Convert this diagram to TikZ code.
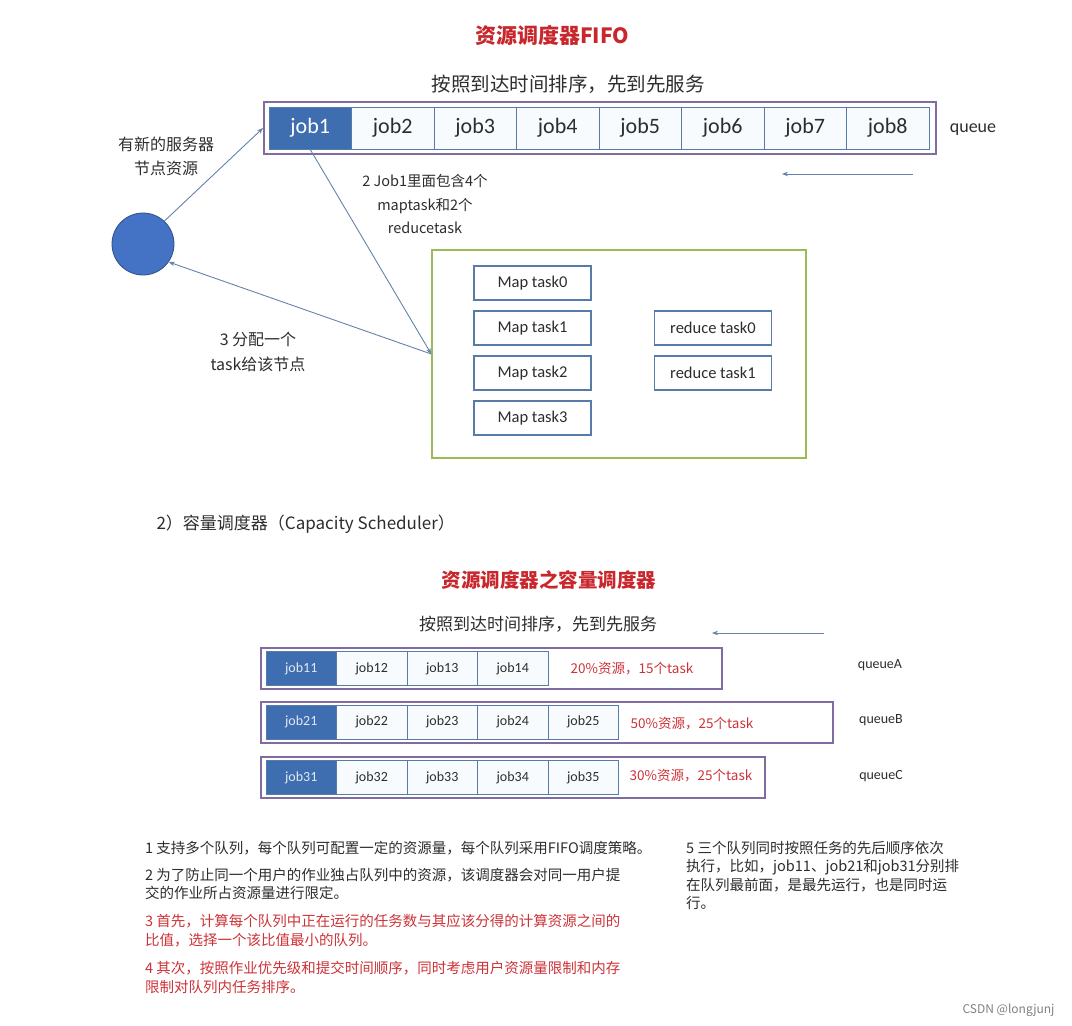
\documentclass[tikz,border=0pt]{standalone}
\usepackage{fontspec}
\setmainfont{Carlito}
\newfontfamily\cjk{Noto Sans CJK SC}
\usetikzlibrary{arrows.meta, positioning, calc}

\begin{document}
\begin{tikzpicture}[x=1pt,y=-1pt,>={Stealth[length=6pt,width=4.5pt]}]

\useasboundingbox (0,0) rectangle (1072,1026);

% Colors
\definecolor{jobblue}{RGB}{62,110,176}
\definecolor{cellline}{RGB}{88,124,170}
\definecolor{cellfill}{RGB}{247,251,254}
\definecolor{queueline}{RGB}{128,108,160}
\definecolor{taskgreen}{RGB}{155,187,89}
\definecolor{arrowblue}{RGB}{100,130,170}
\definecolor{titlered}{RGB}{200,40,45}
\definecolor{notered}{RGB}{205,50,55}
\definecolor{nodeblue}{RGB}{68,114,196}
\definecolor{textgray}{RGB}{45,45,45}

\tikzset{
  jobcell/.style={draw=cellline, fill=cellfill, line width=1pt, minimum width=82.5pt,
    minimum height=42pt, inner sep=0pt, text=textgray, font=\fontsize{22}{22}\selectfont},
  firstcell/.style={jobcell, fill=jobblue, text=white},
  smallcell/.style={jobcell, minimum width=70.5pt, minimum height=34pt, font=\fontsize{14}{14}\selectfont},
  smallfirst/.style={smallcell, fill=jobblue, text=white!85!jobblue},
  queuebox/.style={draw=queueline, line width=2pt, minimum height=41pt, inner sep=0pt},
  taskbox/.style={draw=cellline, fill=white, line width=1.6pt, minimum width=117pt,
    minimum height=34pt, inner sep=0pt, text=textgray, font=\fontsize{16.5}{16.5}\selectfont},
  conn/.style={arrowblue, line width=0.9pt, ->},
  cjklabel/.style={align=center, text=textgray},
  restext/.style={text=notered, font=\cjk\fontsize{13.5}{13.5}\selectfont},
  qlabel/.style={text=textgray, font=\fontsize{14}{14}\selectfont},
  note/.style={anchor=north west, align=left, inner sep=0pt, text=textgray,
    font=\cjk\fontsize{14.5}{18.5}\selectfont}
}

% Titles
\node[text=titlered, font=\cjk\bfseries\fontsize{21}{21}\selectfont] (T1) at (552,35) {资源调度器FIFO};
\node[text=textgray, font=\cjk\fontsize{19.5}{19.5}\selectfont] (S1) at (568,84) {按照到达时间排序，先到先服务};

% FIFO queue
\node[queuebox, minimum width=672pt, minimum height=52pt] (Q) at (600,128) {};
\node[firstcell] (J1) at (310.25,128) {job1};
\foreach \i in {2,...,8} {
    \node[jobcell] (J\i) at ({269+82.5*(\i-0.5)},128) {job\i};
}
\node[text=textgray, font=\fontsize{18}{18}\selectfont] (QL) at (973,130) {queue};
\coordinate (qs) at (913,174);
\coordinate (qe) at (782,174);
\draw[conn] (qs) -- (qe);

% Server node
\node[circle, fill=nodeblue, draw=nodeblue!70!black, line width=0.8pt, minimum size=62pt] (N) at (143,244) {};

% Task box
\node[draw=taskgreen, line width=1.5pt, minimum width=374pt, minimum height=208pt] (G) at (619,354) {};
\foreach \i/\y in {0/283,1/328,2/373,3/418} {
    \node[taskbox] (M\i) at (532.5,\y) {Map task\i};
}
\foreach \i/\y in {0/328,1/373} {
    \node[taskbox] (R\i) at (713,\y) {reduce task\i};
}

% Connections
\draw[conn] (N.47) -- (Q.west);
\draw[conn] (J1.south) -- (G.west);
\draw[conn] (G.west) -- (N.-35);

% Labels
\node[cjklabel, font=\cjk\fontsize{16}{24}\selectfont] (L1) at (166,156) {有新的服务器\\节点资源};
\node[cjklabel, font=\cjk\fontsize{14.5}{23.5}\selectfont] (L2) at (425,204) {2 Job1里面包含4个\\maptask和2个\\reducetask};
\node[cjklabel, font=\cjk\fontsize{16}{25}\selectfont] (L3) at (258,352) {3 分配一个\\task给该节点};

% Capacity scheduler
\node[anchor=west, text=textgray, font=\cjk\fontsize{17}{17}\selectfont] (H2) at (153,524) {2）容量调度器（Capacity Scheduler）};
\node[text=titlered, font=\cjk\bfseries\fontsize{19.5}{19.5}\selectfont] (T2) at (549,580) {资源调度器之容量调度器};
\node[text=textgray, font=\cjk\fontsize{17}{17}\selectfont] (S2) at (538,624) {按照到达时间排序，先到先服务};
\coordinate (cs) at (824,633);
\coordinate (ce) at (712,633);
\draw[conn] (cs) -- (ce);

% Queue A
\node[queuebox, minimum width=461pt] (QA) at (491.5,668.5) {};
\node[smallfirst] (J11) at (301.25,668.5) {job11};
\foreach \i in {2,...,4} {
    \node[smallcell] (J1\i) at ({266+70.5*(\i-0.5)},668.5) {job1\i};
}
\node[restext] (PA) at (632,669) {20\%资源，15个task};
\node[qlabel] (LA) at (880,665) {queueA};

% Queue B
\node[queuebox, minimum width=572pt] (QB) at (547,722) {};
\node[smallfirst] (J21) at (301.25,722) {job21};
\foreach \i in {2,...,5} {
    \node[smallcell] (J2\i) at ({266+70.5*(\i-0.5)},722) {job2\i};
}
\node[restext] (PB) at (692,724) {50\%资源，25个task};
\node[qlabel] (LB) at (881,720) {queueB};

% Queue C
\node[queuebox, minimum width=504pt] (QC) at (513,777.5) {};
\node[smallfirst] (J31) at (301.25,777.5) {job31};
\foreach \i in {2,...,5} {
    \node[smallcell] (J3\i) at ({266+70.5*(\i-0.5)},777.5) {job3\i};
}
\node[restext] (PC) at (691,776) {30\%资源，25个task};
\node[qlabel] (LC) at (881,776) {queueC};

% Notes
\node[note] (N1) at (145,841) {1 支持多个队列，每个队列可配置一定的资源量，每个队列采用FIFO调度策略。};
\node[note] (N2) at (145,868) {2 为了防止同一个用户的作业独占队列中的资源，该调度器会对同一用户提\\交的作业所占资源量进行限定。};
\node[note, text=notered] (N3) at (145,914) {3 首先，计算每个队列中正在运行的任务数与其应该分得的计算资源之间的\\比值，选择一个该比值最小的队列。};
\node[note, text=notered] (N4) at (145,961) {4 其次，按照作业优先级和提交时间顺序，同时考虑用户资源量限制和内存\\限制对队列内任务排序。};
\node[note] (N5) at (686,841) {5 三个队列同时按照任务的先后顺序依次\\执行，比如，job11、job21和job31分别排\\在队列最前面，是最先运行，也是同时运\\行。};

% Watermark
\node[anchor=east, text=gray, font=\cjk\fontsize{12}{12}\selectfont] (W) at (1058,1010) {CSDN @longjunj};

\end{tikzpicture}
\end{document}
